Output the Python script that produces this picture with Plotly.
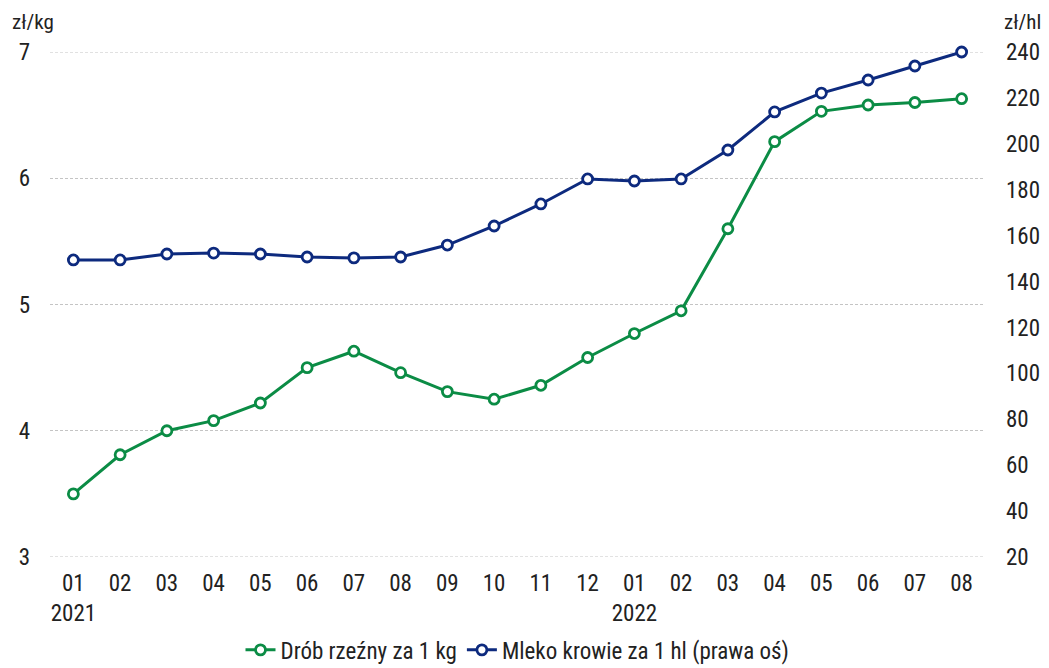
import plotly.graph_objects as go

months = ["01", "02", "03", "04", "05", "06", "07", "08", "09", "10", "11", "12",
          "01", "02", "03", "04", "05", "06", "07", "08"]
years = {0: "2021", 12: "2022"}
categories = [f"{m}<br>{years[i]}" if i in years else m for i, m in enumerate(months)]

drob = [3.50, 3.81, 4.00, 4.08, 4.22, 4.50, 4.63, 4.46, 4.31, 4.25, 4.36, 4.58,
        4.77, 4.95, 5.60, 6.29, 6.53, 6.58, 6.60, 6.63]
mleko = [149.4, 149.4, 152.0, 152.4, 152.0, 150.7, 150.3, 150.7, 155.9, 164.2, 173.8, 184.7,
         183.8, 184.7, 197.3, 213.9, 222.1, 227.8, 233.9, 240.0]

left_ticks = [3, 4, 5, 6, 7]
right_ticks = [20, 40, 60, 80, 100, 120, 140, 160, 180, 200, 220, 240]

GREEN = "#0b8c45"
NAVY = "#0d2a7e"
GRID = "#c4c4c4"
FONT = "Liberation Sans Narrow, Roboto Condensed, Roboto, sans-serif"
FS = 23

x = list(range(len(categories)))

fig = go.Figure()
fig.add_trace(go.Scatter(
    x=x, y=drob, name="Drób rzeźny za 1 kg", mode="lines+markers", cliponaxis=False,
    line=dict(color=GREEN, width=3),
    marker=dict(symbol="circle", size=10, color="white", line=dict(color=GREEN, width=2.8)),
))
fig.add_trace(go.Scatter(
    x=x, y=mleko, name="Mleko krowie za 1 hl (prawa oś)", mode="lines+markers", yaxis="y2",
    cliponaxis=False,
    line=dict(color=NAVY, width=3),
    marker=dict(symbol="circle", size=10, color="white", line=dict(color=NAVY, width=2.8)),
))

# gridlines at the range ends (plotly omits those)
edge_grid = [
    dict(type="line", xref="paper", yref="y", x0=0, x1=1, y0=v, y1=v, layer="below",
         line=dict(color=GRID, width=1, dash="3px,2px"))
    for v in (left_ticks[0], left_ticks[-1])
]

# page body has an 8px default margin: size the figure so it fills the 1049x668 window
fig.update_layout(
    width=1041, height=660,
    margin=dict(l=42, r=64, t=44, b=111, autoexpand=False),
    paper_bgcolor="white", plot_bgcolor="white",
    font=dict(family=FONT, size=FS, color="#222222"),
    showlegend=True,
    legend=dict(orientation="h", x=0.5, xanchor="center", y=-0.184, yanchor="middle",
                font=dict(size=FS), tracegroupgap=0),
    shapes=edge_grid,
    xaxis=dict(
        range=[-0.5, len(categories) - 0.5], automargin=False,
        tickmode="array", tickvals=x, ticktext=categories,
        showgrid=False, zeroline=False, showline=False, ticks="",
        ticklabelstandoff=10,
        tickfont=dict(size=FS),
    ),
    yaxis=dict(
        range=[3, 7], tickvals=left_ticks, automargin=False,
        showgrid=True, gridcolor=GRID, griddash="3px,2px", gridwidth=1,
        zeroline=False, showline=False, ticks="",
        ticklabelstandoff=19,
        tickfont=dict(size=FS),
    ),
    yaxis2=dict(
        range=[20, 240], tickvals=right_ticks, overlaying="y", side="right", automargin=False,
        showgrid=False, zeroline=False, showline=False, ticks="",
        ticklabelstandoff=20,
        tickfont=dict(size=FS),
    ),
    annotations=[
        dict(text="zł/kg", xref="paper", yref="paper", x=-0.043, y=1.032,
             xanchor="left", yanchor="bottom", showarrow=False, font=dict(size=FS - 2)),
        dict(text="zł/hl", xref="paper", yref="paper", x=1.062, y=1.032,
             xanchor="right", yanchor="bottom", showarrow=False, font=dict(size=FS - 2)),
    ],
)

fig.write_html("out.html")
